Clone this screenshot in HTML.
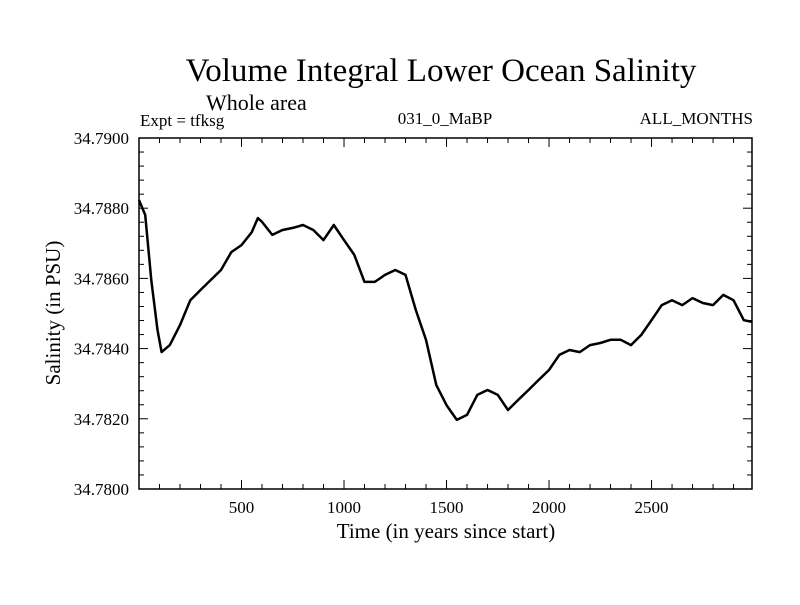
<!DOCTYPE html>
<html><head><meta charset="utf-8"><style>
body{margin:0;background:#fff;}
svg text{font-family:"Liberation Serif",serif;fill:#000;}
</style></head><body>
<svg id="chart" width="800" height="600">
<rect width="800" height="600" fill="#fff"/>
<text x="441" y="81" font-size="33" text-anchor="middle">Volume Integral Lower Ocean Salinity</text>
<text x="206" y="110" font-size="22">Whole area</text>
<text x="140" y="126" font-size="17">Expt = tfksg</text>
<text x="445" y="124" font-size="17" text-anchor="middle">031_0_MaBP</text>
<text x="753" y="124" font-size="17" text-anchor="end">ALL_MONTHS</text>
<text x="446" y="538" font-size="21" text-anchor="middle">Time (in years since start)</text>
<text transform="translate(60,313) rotate(-90)" font-size="21" text-anchor="middle">Salinity (in PSU)</text>
<g id="axes"></g>
<path id="line" fill="none" stroke="#000" stroke-width="2.5" stroke-linejoin="round"/>
<rect x="139" y="138" width="613" height="351" fill="none" stroke="#000" stroke-width="1.5"/>
</svg>
<script>
const years=[0,30,60,90,110,150,200,250,300,400,450,500,550,580,600,650,700,750,800,850,900,950,1000,1050,1100,1150,1200,1250,1300,1350,1400,1450,1500,1550,1600,1650,1700,1750,1800,1850,1900,1950,2000,2050,2100,2150,2200,2250,2300,2350,2400,2450,2500,2550,2600,2650,2700,2750,2800,2850,2900,2950,2990];
const salinity=[34.78823,34.78781,34.78595,34.78453,34.78390,34.78410,34.78467,34.78538,34.78567,34.78624,34.78675,34.78695,34.78732,34.78772,34.78761,34.78724,34.78738,34.78744,34.78752,34.78738,34.78709,34.78752,34.78709,34.78667,34.78590,34.78590,34.78610,34.78624,34.78610,34.78510,34.78425,34.78296,34.78239,34.78197,34.78211,34.78268,34.78282,34.78268,34.78225,34.78254,34.78282,34.78311,34.78339,34.78382,34.78396,34.78390,34.78410,34.78416,34.78425,34.78425,34.78410,34.78439,34.78481,34.78524,34.78538,34.78524,34.78544,34.78530,34.78524,34.78553,34.78538,34.78481,34.78476];
const xTicks=[500,1000,1500,2000,2500];
const yTicks=[34.7800,34.7820,34.7840,34.7860,34.7880,34.7900];
const X0=139,X1=752,Y0=489,Y1=138,XMIN=0,XMAX=2990,YMIN=34.78,YMAX=34.79;
const sx=v=>X0+(v-XMIN)/(XMAX-XMIN)*(X1-X0);
const sy=v=>Y0-(v-YMIN)/(YMAX-YMIN)*(Y0-Y1);
const NS="http://www.w3.org/2000/svg";
const ax=document.getElementById('axes');
function ln(x1,y1,x2,y2,name){const l=document.createElementNS(NS,'line');l.setAttribute('x1',x1);l.setAttribute('y1',y1);l.setAttribute('x2',x2);l.setAttribute('y2',y2);l.setAttribute('stroke','#000');l.setAttribute('stroke-width','1');


ax.appendChild(l);}
function tx(x,y,s,anchor,name){const t=document.createElementNS(NS,'text');t.setAttribute('x',x);t.setAttribute('y',y);t.setAttribute('font-size','17');t.setAttribute('text-anchor',anchor);t.textContent=s;


ax.appendChild(t);}
for(let v=100;v<XMAX;v+=100){const x=sx(v);const major=v%500===0;ln(x,Y0,x,Y0-(major?9:5),'x-tick');ln(x,Y1,x,Y1+(major?9:5),'x-tick-top');}
xTicks.forEach(v=>tx(sx(v),Y0+24,String(v),'middle','x-tick-label'));
for(let i=0;i<=25;i++){const v=YMIN+i*0.0004;const y=sy(v);const major=i%5===0;ln(X0,y,X0+(major?9:5),y,'y-tick');ln(X1,y,X1-(major?9:5),y,'y-tick-right');}
yTicks.forEach(v=>tx(X0-10,sy(v)+6,v.toFixed(4),'end','y-tick-label'));
document.getElementById('line').setAttribute('d',years.map((y,i)=>(i?'L':'M')+sx(y).toFixed(1)+','+sy(salinity[i]).toFixed(1)).join(''));
</script>
</body></html>
